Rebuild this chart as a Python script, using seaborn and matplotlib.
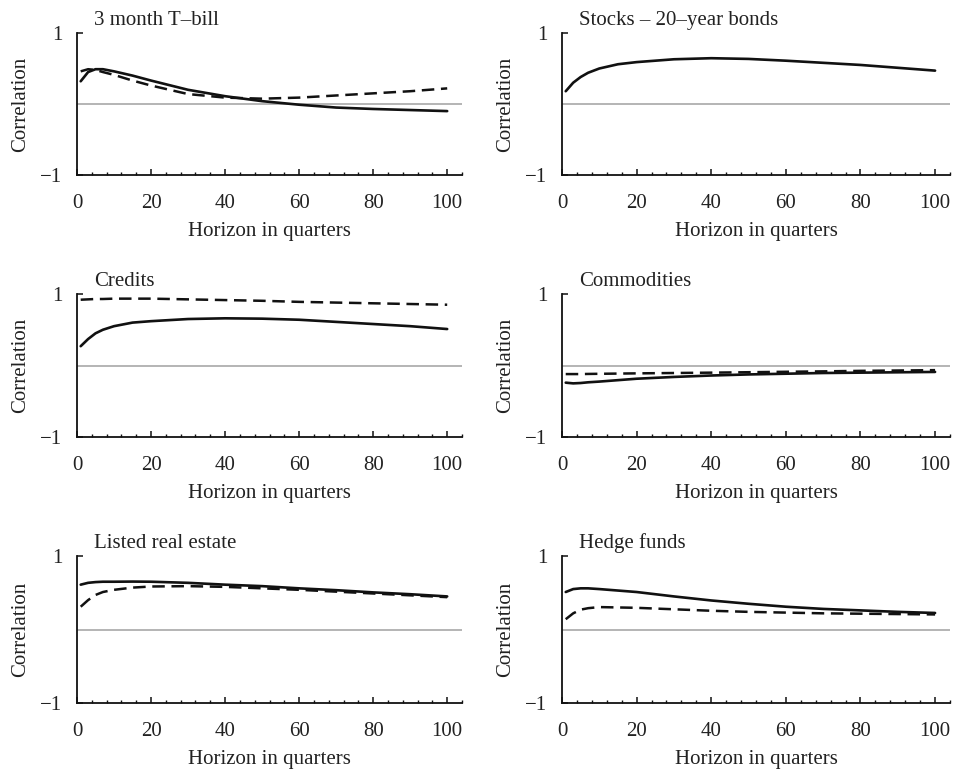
import matplotlib
matplotlib.use("Agg")
import matplotlib.pyplot as plt
from matplotlib.ticker import MultipleLocator, FixedLocator
import seaborn as sns
import pandas as pd

# ---------------- data ----------------
horizon = [1, 3, 5, 7, 10, 15, 20, 30, 40, 50, 60, 70, 80, 90, 100]

titles = ["3 month T\u2013bill", "Stocks \u2013 20\u2013year bonds", "Credits",
          "Commodities", "Listed real estate", "Hedge funds"]

tbill_solid = [0.32, 0.45, 0.49, 0.49, 0.46, 0.40, 0.33, 0.20, 0.11, 0.04, -0.01, -0.05, -0.07, -0.085, -0.10]
tbill_dashed = [0.46, 0.49, 0.48, 0.45, 0.41, 0.33, 0.26, 0.14, 0.09, 0.075, 0.09, 0.12, 0.15, 0.18, 0.22]

bonds_solid = [0.18, 0.30, 0.38, 0.44, 0.50, 0.56, 0.59, 0.63, 0.645, 0.635, 0.61, 0.58, 0.55, 0.51, 0.47]

credits_solid = [0.27, 0.37, 0.45, 0.50, 0.55, 0.60, 0.62, 0.65, 0.66, 0.655, 0.64, 0.61, 0.58, 0.55, 0.51]
credits_dashed = [0.92, 0.925, 0.93, 0.93, 0.935, 0.935, 0.935, 0.925, 0.915, 0.905, 0.89, 0.88, 0.87, 0.86, 0.85]

commod_solid = [-0.24, -0.25, -0.245, -0.235, -0.225, -0.205, -0.185, -0.16, -0.14, -0.125, -0.115, -0.105, -0.10, -0.095, -0.09]
commod_dashed = [-0.12, -0.12, -0.12, -0.118, -0.116, -0.113, -0.11, -0.105, -0.10, -0.094, -0.088, -0.082, -0.075, -0.07, -0.065]

reit_solid = [0.61, 0.635, 0.645, 0.65, 0.65, 0.652, 0.65, 0.635, 0.61, 0.59, 0.56, 0.535, 0.505, 0.48, 0.45]
reit_dashed = [0.31, 0.40, 0.47, 0.51, 0.54, 0.57, 0.585, 0.59, 0.58, 0.56, 0.54, 0.515, 0.49, 0.465, 0.44]

hedge_solid = [0.51, 0.55, 0.56, 0.56, 0.55, 0.53, 0.51, 0.45, 0.395, 0.35, 0.31, 0.28, 0.26, 0.24, 0.225]
hedge_dashed = [0.14, 0.22, 0.27, 0.29, 0.305, 0.30, 0.295, 0.275, 0.255, 0.24, 0.23, 0.22, 0.215, 0.21, 0.205]

x_ticks = [0, 20, 40, 60, 80, 100]
y_ticks = [-1, 1]
y_ticklabels = ["\u22121", "1"]
x_label = "Horizon in quarters"
y_label = "Correlation"

panels = [
    (tbill_solid, tbill_dashed),
    (bonds_solid, None),
    (credits_solid, credits_dashed),
    (commod_solid, commod_dashed),
    (reit_solid, reit_dashed),
    (hedge_solid, hedge_dashed),
]

# ---------------- style ----------------
sns.set_theme(style="ticks")
plt.rcParams["font.family"] = ["Liberation Serif", "DejaVu Serif"]
plt.rcParams["lines.scale_dashes"] = False
txt = "#222222"
FS = 15

fig = plt.figure(figsize=(9.58, 7.73), dpi=100)

W, H = 958.0, 773.0
cols = [(77, 462), (562, 950)]
rows = [(33, 175), (294, 437), (556, 703)]

for i, (solid, dashed) in enumerate(panels):
    r, c = divmod(i, 2)
    x0, x1 = cols[c]
    y0, y1 = rows[r]
    ax = fig.add_axes([x0 / W, 1 - y1 / H, (x1 - x0) / W, (y1 - y0) / H])

    ax.axhline(0, color="#a0a0a0", lw=1.1, zorder=1)

    df = pd.DataFrame({"h": horizon, "solid": solid})
    sns.lineplot(data=df, x="h", y="solid", ax=ax, color="#111111", lw=1.9,
                 zorder=3)
    if dashed is not None:
        df2 = pd.DataFrame({"h": horizon, "dashed": dashed})
        sns.lineplot(data=df2, x="h", y="dashed", ax=ax, color="#111111",
                     lw=1.8, zorder=2)
        ax.lines[-1].set_dashes((9, 4.8))

    ax.set_xlim(0, 104)
    ax.set_ylim(-1, 1)
    sns.despine(ax=ax)
    for s in ["left", "bottom"]:
        ax.spines[s].set_color("#111111")
        ax.spines[s].set_linewidth(1.3)

    ax.xaxis.set_major_locator(FixedLocator(x_ticks))
    ax.xaxis.set_minor_locator(MultipleLocator(4))
    ax.set_yticks(y_ticks)
    ax.set_yticklabels(y_ticklabels)
    ax.tick_params(axis="both", which="major", direction="in", length=4.5,
                   width=1.1, color="#111111", labelsize=FS, labelcolor=txt)
    ax.tick_params(axis="x", which="major", pad=13.5)
    ax.tick_params(axis="y", which="major", pad=10.5)
    ax.tick_params(axis="x", which="minor", direction="in", length=2.5,
                   width=1.0, color="#111111")

    ax.set_xlabel(x_label, fontsize=FS, color=txt, labelpad=6.5)
    ax.set_ylabel(y_label, fontsize=FS, color=txt, labelpad=7.5)
    ax.annotate(titles[i], xy=(4.5, 1), xycoords="data", xytext=(0, 5.5),
                textcoords="offset points", ha="left", va="baseline",
                fontsize=FS, color=txt, annotation_clip=False)

fig.savefig("out.png", dpi=100)
